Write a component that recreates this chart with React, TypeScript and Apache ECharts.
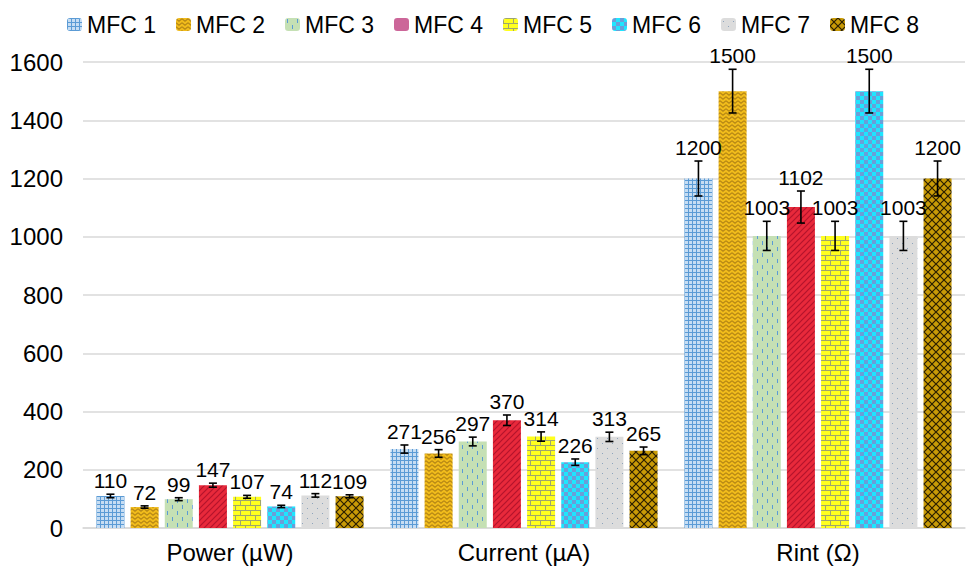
import React, { useEffect, useRef } from "react";
import * as echarts from "echarts";

const categories = ["Power (µW)", "Current (µA)", "Rint (Ω)"];
const seriesNames = ["MFC 1", "MFC 2", "MFC 3", "MFC 4", "MFC 5", "MFC 6", "MFC 7", "MFC 8"];
// values per MFC: [Power, Current, Rint]
const mfc1 = [110, 271, 1200];
const mfc2 = [72, 256, 1500];
const mfc3 = [99, 297, 1003];
const mfc4 = [147, 370, 1102];
const mfc5 = [107, 314, 1003];
const mfc6 = [74, 226, 1500];
const mfc7 = [112, 313, 1003];
const mfc8 = [109, 265, 1200];
const values = [mfc1, mfc2, mfc3, mfc4, mfc5, mfc6, mfc7, mfc8];
// error bar half-lengths per MFC: [Power, Current, Rint]
const err1 = [6, 14, 60];
const err2 = [4, 13, 75];
const err3 = [5, 15, 50];
const err4 = [7, 18, 55];
const err5 = [5, 16, 50];
const err6 = [4, 11, 75];
const err7 = [6, 16, 50];
const err8 = [5, 13, 60];
const errors = [err1, err2, err3, err4, err5, err6, err7, err8];
const yTicks = { min: 0, max: 1600, interval: 200 };

const FONT = "'Liberation Sans', Arial, sans-serif";
const BAR_W = 28;
const GAP_RATIO = 0.22;

function makePattern(w: number, h: number, draw: (ctx: CanvasRenderingContext2D) => void) {
  const c = document.createElement("canvas");
  c.width = w;
  c.height = h;
  const ctx = c.getContext("2d") as CanvasRenderingContext2D;
  draw(ctx);
  return { image: c, repeat: "repeat" } as any;
}

function buildPatterns() {
  const p1 = makePattern(4, 4, (ctx) => {
    ctx.fillStyle = "#c6ddf3";
    ctx.fillRect(0, 0, 4, 4);
    ctx.fillStyle = "#5b9bd5";
    ctx.fillRect(0, 0, 4, 1);
    ctx.fillRect(0, 0, 1, 4);
  });
  const p2 = makePattern(6, 4, (ctx) => {
    ctx.fillStyle = "#f1bc1c";
    ctx.fillRect(0, 0, 6, 4);
    ctx.strokeStyle = "#b58716";
    ctx.lineWidth = 1.1;
    ctx.beginPath();
    ctx.moveTo(0, 0.8);
    ctx.lineTo(3, 3.2);
    ctx.lineTo(6, 0.8);
    ctx.stroke();
  });
  const p3 = makePattern(10, 12, (ctx) => {
    ctx.fillStyle = "#c5e0b4";
    ctx.fillRect(0, 0, 10, 12);
    ctx.fillStyle = "#5b9bd5";
    ctx.fillRect(2, 1, 1, 4);
    ctx.fillRect(7, 7, 1, 4);
  });
  const p4 = makePattern(6, 6, (ctx) => {
    ctx.fillStyle = "#e8293b";
    ctx.fillRect(0, 0, 6, 6);
    ctx.strokeStyle = "#b3142c";
    ctx.lineWidth = 1.2;
    ctx.beginPath();
    ctx.moveTo(-1, 1);
    ctx.lineTo(1, -1);
    ctx.moveTo(0, 6);
    ctx.lineTo(6, 0);
    ctx.moveTo(5, 7);
    ctx.lineTo(7, 5);
    ctx.stroke();
  });
  const p5 = makePattern(10, 10, (ctx) => {
    ctx.fillStyle = "#ffff1e";
    ctx.fillRect(0, 0, 10, 10);
    ctx.fillStyle = "#9ea56e";
    ctx.fillRect(0, 0, 10, 1);
    ctx.fillRect(0, 5, 10, 1);
    ctx.fillRect(0, 0, 1, 5);
    ctx.fillRect(5, 5, 1, 5);
  });
  const p6 = makePattern(8, 8, (ctx) => {
    ctx.fillStyle = "#1ee6ff";
    ctx.fillRect(0, 0, 8, 8);
    ctx.fillStyle = "#6a9fd8";
    ctx.fillRect(0, 0, 4, 4);
    ctx.fillRect(4, 4, 4, 4);
  });
  const p7 = makePattern(10, 10, (ctx) => {
    ctx.fillStyle = "#dcdcdc";
    ctx.fillRect(0, 0, 10, 10);
    ctx.fillStyle = "#8ea4bc";
    ctx.fillRect(2, 3, 1, 1);
    ctx.fillRect(7, 8, 1, 1);
  });
  const p8 = makePattern(8, 8, (ctx) => {
    ctx.fillStyle = "#c89a06";
    ctx.fillRect(0, 0, 8, 8);
    ctx.strokeStyle = "#2a1e00";
    ctx.lineWidth = 1.2;
    ctx.beginPath();
    ctx.moveTo(0, 0);
    ctx.lineTo(8, 8);
    ctx.moveTo(8, 0);
    ctx.lineTo(0, 8);
    ctx.stroke();
  });
  return [p1, p2, p3, p4, p5, p6, p7, p8];
}

export default function App() {
  const ref = useRef<HTMLDivElement>(null);
  useEffect(() => {
    if (!ref.current) return;
    const chart = echarts.init(ref.current, undefined, { renderer: "svg" });
    const patterns = buildPatterns();
    const gap = BAR_W * GAP_RATIO;
    const n = seriesNames.length;
    const total = n * BAR_W + (n - 1) * gap;
    const offsetOf = (i: number) => -total / 2 + BAR_W / 2 + i * (BAR_W + gap);

    const barSeries = seriesNames.map((name, i) => ({
      type: "bar",
      name,
      data: values[i],
      barWidth: BAR_W,
      barGap: `${GAP_RATIO * 100}%`,
      itemStyle: { color: patterns[i] },
      z: 2,
    }));

    const errSeries = seriesNames.map((name, i) => ({
      type: "custom",
      name: name + " err",
      data: values[i].map((v, k) => [k, v, errors[i][k]]),
      encode: { x: 0, y: 1 },
      z: 5,
      renderItem: (params: any, api: any) => {
        const ci = api.value(0);
        const v = api.value(1);
        const e = api.value(2);
        const base = api.coord([ci, v]);
        const top = api.coord([ci, v + e]);
        const bot = api.coord([ci, v - e]);
        const x = base[0] + offsetOf(i);
        const cap = 4;
        const st = { stroke: "#000", lineWidth: 1.6 };
        return {
          type: "group",
          children: [
            { type: "line", shape: { x1: x, y1: top[1], x2: x, y2: bot[1] }, style: st },
            { type: "line", shape: { x1: x - cap, y1: top[1], x2: x + cap, y2: top[1] }, style: st },
            { type: "line", shape: { x1: x - cap, y1: bot[1], x2: x + cap, y2: bot[1] }, style: st },
            {
              type: "text",
              style: {
                text: String(v),
                x,
                y: top[1] - 3,
                align: "center",
                verticalAlign: "bottom",
                fontSize: 21,
                fontFamily: FONT,
                fill: "#000",
              },
            },
          ],
        };
      },
    }));

    chart.setOption({
      animation: false,
      textStyle: { fontFamily: FONT },
      legend: {
        left: 62,
        top: 8,
        itemWidth: 15,
        itemHeight: 13,
        itemGap: 20,
        textStyle: { fontSize: 23, color: "#000", fontFamily: FONT },
        data: seriesNames.map((name, i) =>
          i === 3 ? { name, itemStyle: { color: "#cc6699" } } : { name }
        ),
      },
      grid: { left: 83, right: 3, top: 62, bottom: 41, containLabel: false },
      xAxis: {
        type: "category",
        data: categories,
        axisLine: { lineStyle: { color: "#d9d9d9", width: 1.5 } },
        axisTick: { show: false },
        axisLabel: { fontSize: 24, color: "#000", margin: 12, fontFamily: FONT },
      },
      yAxis: {
        type: "value",
        min: yTicks.min,
        max: yTicks.max,
        interval: yTicks.interval,
        axisLine: { show: false },
        axisTick: { show: false },
        splitLine: { lineStyle: { color: "#d9d9d9", width: 1.5 } },
        axisLabel: {
          fontSize: 24,
          color: "#000",
          margin: 20,
          fontFamily: FONT,
          formatter: (v: number) => String(v),
        },
      },
      series: [...barSeries, ...errSeries],
    });
    return () => chart.dispose();
  }, []);
  return (
    <div
      ref={ref}
      style={{ position: "fixed", left: 0, top: 0, width: 968, height: 569, background: "#fff" }}
    />
  );
}
